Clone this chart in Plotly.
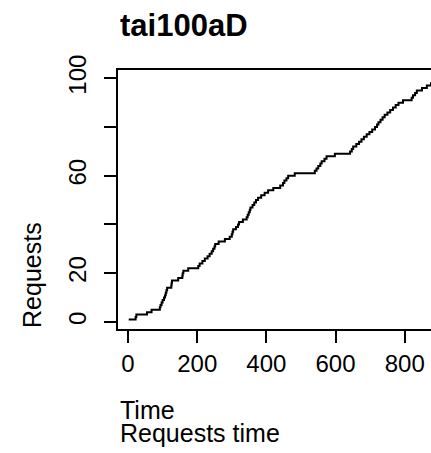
import plotly.graph_objects as go

# Request arrival times and cumulative request count
request_times = [2, 22, 24, 55, 68, 92, 94, 97, 100, 104,
                 107, 109, 111, 113, 125, 126, 127, 145, 157, 158,
                 160, 174, 203, 207, 215, 222, 230, 236, 242, 246,
                 250, 252, 262, 280, 294, 300, 302, 304, 312, 318,
                 321, 332, 343, 346, 349, 352, 354, 360, 365, 370,
                 376, 385, 395, 405, 420, 440, 448, 452, 458, 463,
                 482, 540, 545, 550, 556, 560, 568, 574, 598, 642,
                 647, 651, 660, 668, 675, 682, 690, 698, 706, 714,
                 720, 724, 730, 736, 742, 750, 758, 766, 774, 782,
                 795, 820, 824, 830, 835, 850, 864, 876, 890, 905]
request_counts = list(range(1, len(request_times) + 1))

x_ticks = [0, 200, 400, 600, 800]
y_ticks = [0, 20, 40, 60, 80, 100]
y_tick_labels = ["0", "20", "", "60", "", "100"]

FONT = "Liberation Sans, Arial, sans-serif"

fig = go.Figure()
fig.add_trace(go.Scatter(
    x=request_times, y=request_counts, mode="lines",
    line=dict(shape="hv", color="black", width=2),
    showlegend=False, hoverinfo="skip"))

fig.update_layout(
    width=431, height=453,
    margin=dict(l=118, r=0, t=70, b=124),
    paper_bgcolor="white", plot_bgcolor="white",
    font=dict(family=FONT, size=24, color="black"),
    showlegend=False,
)
fig.update_xaxes(
    range=[-29, 876], tickmode="array", tickvals=x_ticks,
    ticks="outside", ticklen=12, tickwidth=1.5, tickcolor="black",
    showline=True, linewidth=1.5, linecolor="black", mirror=True,
    showgrid=False, zeroline=False,
    tickfont=dict(family=FONT, size=24, color="black"))
fig.update_yaxes(
    range=[-2.9, 103.4], tickmode="array", tickvals=y_ticks, ticktext=y_tick_labels,
    tickangle=-90, ticklabelstandoff=9,
    ticks="outside", ticklen=12, tickwidth=1.5, tickcolor="black",
    showline=True, linewidth=1.5, linecolor="black", mirror=False,
    showgrid=False, zeroline=False,
    tickfont=dict(family=FONT, size=24, color="black"))

fig.add_annotation(text="<b>tai100aD</b>", xref="paper", yref="paper",
                   x=0, y=1.1737, xanchor="left", yanchor="middle", showarrow=False,
                   font=dict(family=FONT, size=31, color="black"))
fig.add_annotation(text="Time", xref="paper", yref="paper",
                   x=0, y=-0.314, xanchor="left", yanchor="middle", showarrow=False,
                   font=dict(family=FONT, size=25, color="black"))
fig.add_annotation(text="Requests time", xref="paper", yref="paper",
                   x=0, y=-0.402, xanchor="left", yanchor="middle", showarrow=False,
                   font=dict(family=FONT, size=25, color="black"))
fig.add_annotation(text="Requests", xref="paper", yref="paper",
                   x=-0.2748, y=0.2085, xanchor="center", yanchor="middle", showarrow=False,
                   textangle=-90,
                   font=dict(family=FONT, size=25, color="black"))

fig.write_html("out.html")
